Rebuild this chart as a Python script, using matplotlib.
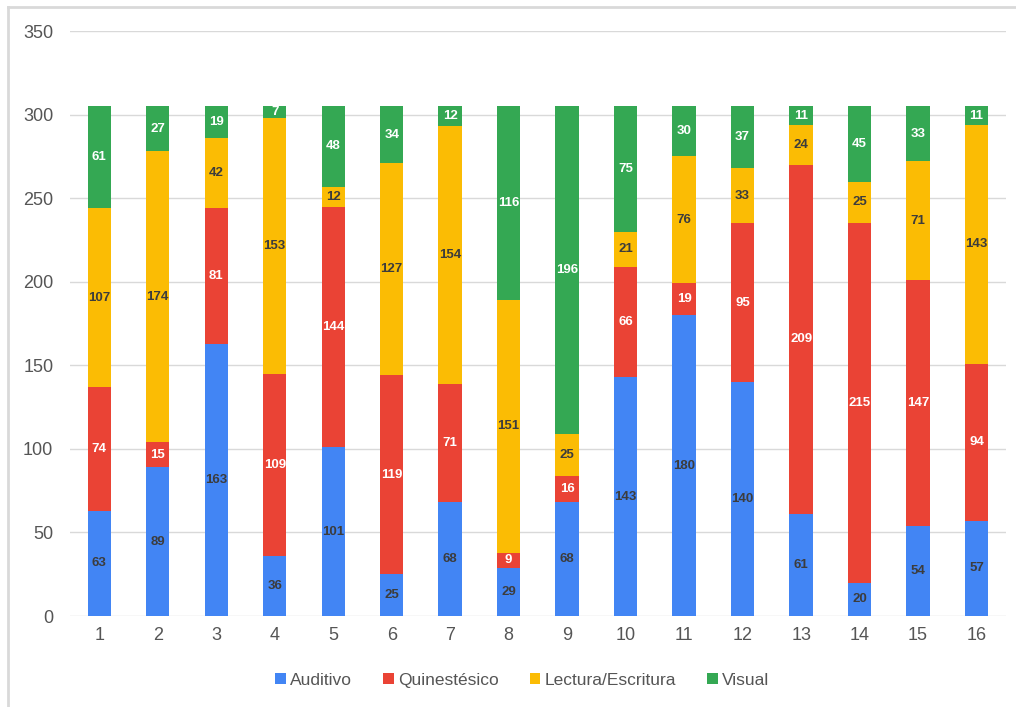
import matplotlib.pyplot as plt
from matplotlib.lines import Line2D
import numpy as np

plt.rcParams['font.family'] = ['Liberation Sans', 'DejaVu Sans']

# Data
grupos = [str(i) for i in range(1, 17)]
auditivo = [63, 89, 163, 36, 101, 25, 68, 29, 68, 143, 180, 140, 61, 20, 54, 57]
quinestesico = [74, 15, 81, 109, 144, 119, 71, 9, 16, 66, 19, 95, 209, 215, 147, 94]
lectura = [107, 174, 42, 153, 12, 127, 154, 151, 25, 21, 76, 33, 24, 25, 71, 143]
visual = [61, 27, 19, 7, 48, 34, 12, 116, 196, 75, 30, 37, 11, 45, 33, 11]

series = [
    ('Auditivo', auditivo, '#4285F4', '#3c3c3c'),
    ('Quinestésico', quinestesico, '#EA4335', 'white'),
    ('Lectura/Escritura', lectura, '#FBBC04', '#3c3c3c'),
    ('Visual', visual, '#34A853', 'white'),
]

W, H = 1016, 707
fig = plt.figure(figsize=(W / 100, H / 100), dpi=100)
ax = fig.add_axes([0.0689, 0.1287, 0.9211, 0.8273])

# light frame, only top and left edges are visible in the screenshot
fx, fy = 8 / W, 1 - 7 / H
fig.add_artist(Line2D([fx, 1], [fy, fy], transform=fig.transFigure, color='#d9d9d9', lw=2))
fig.add_artist(Line2D([fx, fx], [0, fy], transform=fig.transFigure, color='#d9d9d9', lw=2))

x = np.arange(1, len(grupos) + 1)
bottom = np.zeros(len(grupos))
for name, vals, color, tcolor in series:
    vals = np.array(vals)
    ax.bar(x, vals, 0.4, bottom=bottom, color=color, label=name, zorder=3)
    for xi, b, v in zip(x, bottom, vals):
        ax.text(xi, b + v / 2, str(v), ha='center', va='center', fontsize=9.5,
                fontweight='bold', color=tcolor, zorder=4)
    bottom += vals

ax.set_xlim(0.5, 16.5)
ax.set_ylim(0, 350)
ax.set_yticks(range(0, 351, 50))
ax.set_xticks(x)
ax.set_xticklabels(grupos)
ax.grid(axis='y', color='#d9d9d9', linewidth=1, zorder=0)
for s in ax.spines.values():
    s.set_visible(False)
ax.tick_params(length=0, labelsize=13, labelcolor='#555555')
ax.tick_params(axis='y', pad=12)
ax.tick_params(axis='x', pad=8)

fig.legend(loc='center', bbox_to_anchor=(0.514, 0.038), ncol=4, frameon=False,
           fontsize=12.5, labelcolor='#555555', handlelength=0.6, handleheight=0.6,
           handletextpad=0.25, columnspacing=1.8)

plt.savefig('out.png', dpi=100)
